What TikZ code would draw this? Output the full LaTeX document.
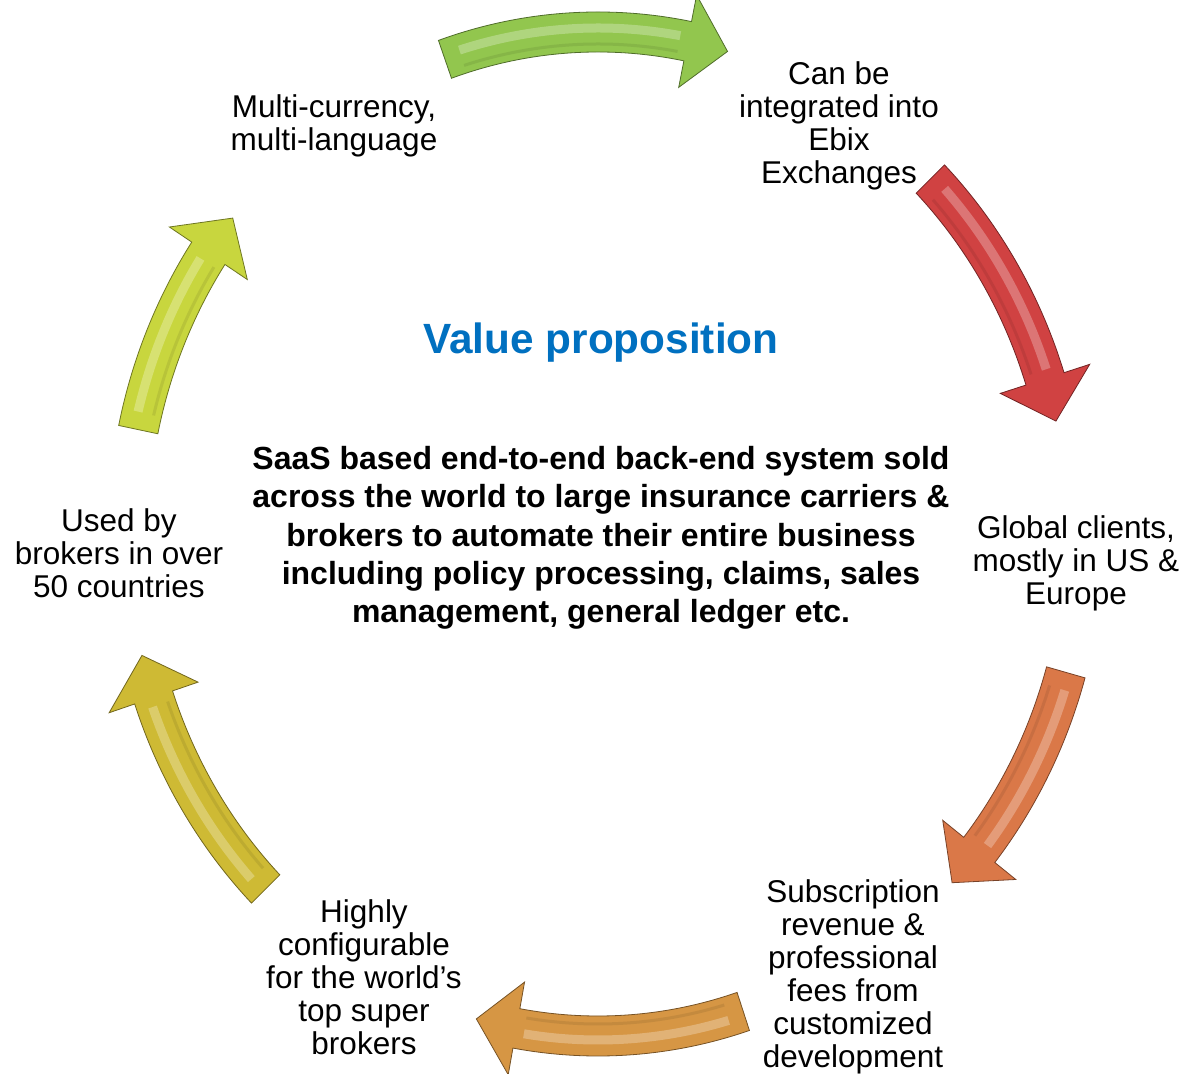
\documentclass[tikz,border=0pt]{standalone}
\usepackage{fontspec}
\setmainfont{Liberation Sans}
\definecolor{arrgreen}{RGB}{146,198,78}
\definecolor{arrred}{RGB}{208,66,66}
\definecolor{arrcopper}{RGB}{218,120,72}
\definecolor{arrgold}{RGB}{214,150,68}
\definecolor{arrolive}{RGB}{206,186,52}
\definecolor{arrlime}{RGB}{200,214,62}
\definecolor{titleblue}{RGB}{0,112,192}

% curved block arrow on the cycle, #1 = tail angle, #2 = tip angle, #3 = colour
\newcommand{\cyclearrow}[3]{%
  \pgfmathsetmacro{\ta}{#1}%
  \pgfmathsetmacro{\tb}{#2+5}%
  \pgfmathsetmacro{\tc}{#2}%
  \filldraw[fill=#3, draw=#3!55!black, line width=0.8, line join=miter]
    (\ta:490 and 522) arc[start angle=\ta, end angle=\tb, x radius=490, y radius=522]
    -- (\tb:517 and 549) -- (\tc:470 and 502) -- (\tb:423 and 455)
    -- (\tb:450 and 482) arc[start angle=\tb, end angle=\ta, x radius=450, y radius=482]
    -- cycle;
  \draw[#3!55!white, line width=9, opacity=0.6]
    (\ta-2:474 and 506) arc[start angle=\ta-2, end angle=\tb+1, x radius=474, y radius=506];
  \draw[#3!80!black, line width=3, opacity=0.4]
    (\ta-2:458 and 490) arc[start angle=\ta-2, end angle=\tb+1, x radius=458, y radius=490];
}

\begin{document}
\begin{tikzpicture}[x=1pt, y=1pt,
    point/.style = {align=center, font=\fontsize{31.5}{33}\selectfont},
    core/.style = {align=center, font=\fontsize{32}{38.3}\selectfont\bfseries}]
\useasboundingbox (0,0) rectangle (1184,1074);
\fill[white] (0,0) rectangle (1184,1074);

\begin{scope}[shift={(598,540)}]
\cyclearrow{109}{74}{arrgreen}
\cyclearrow{45}{13}{arrred}
\begin{scope}[xshift=16]
\cyclearrow{-16}{-44}{arrcopper}
\end{scope}
\cyclearrow{-72}{-105}{arrgold}
\cyclearrow{-135}{-166}{arrolive}
\cyclearrow{168}{141}{arrlime}
\end{scope}

\node[point] (multi) at (334,948) {Multi-currency,\\multi-language};
\node[point] (ebix) at (839,948) {Can be\\integrated into\\Ebix\\Exchanges};
\node[point] (global) at (1076,511) {Global clients,\\mostly in US \&\\Europe};
\node[point] (subs) at (853,97) {Subscription\\revenue \&\\professional\\fees from\\customized\\development};
\node[point] (config) at (364,97) {Highly\\configurable\\for the world’s\\top super\\brokers};
\node[point] (brokers) at (119,521) {Used by\\brokers in over\\50 countries};

\node[font=\fontsize{42.3}{50}\selectfont\bfseries, text=titleblue] (title) at (601,731) {Value proposition};
\node[core] (saas) at (601,536) {SaaS based end-to-end back-end system sold\\across the world to large insurance carriers \&\\brokers to automate their entire business\\including policy processing, claims, sales\\management, general ledger etc.};
\end{tikzpicture}
\end{document}
